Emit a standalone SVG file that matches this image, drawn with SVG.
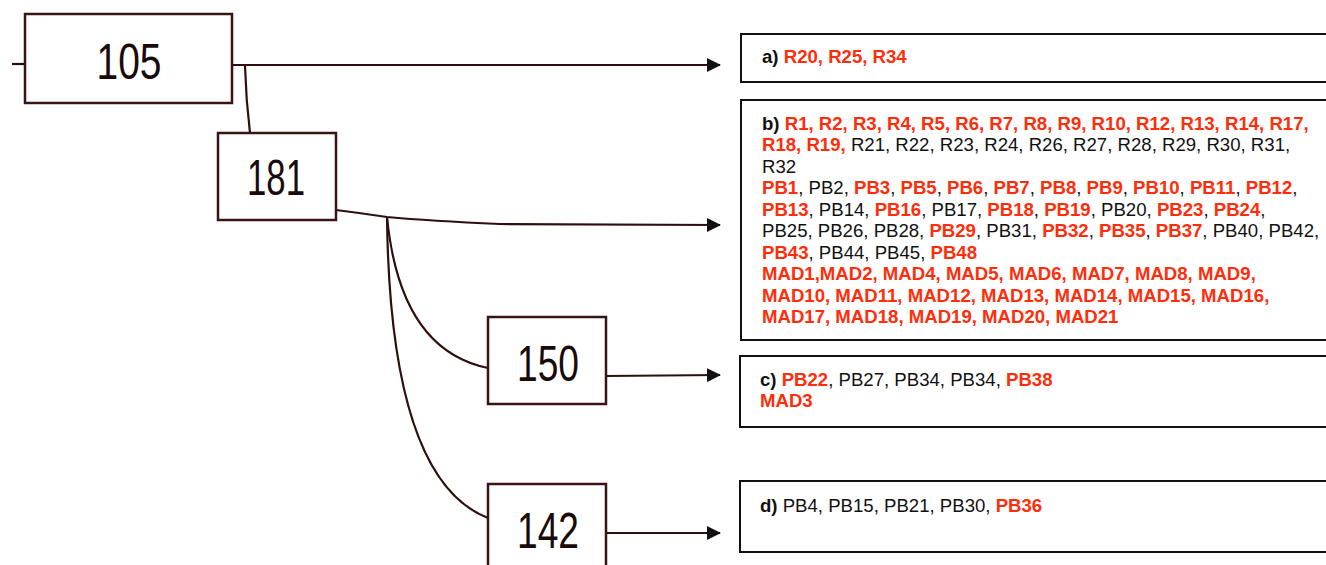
<svg xmlns="http://www.w3.org/2000/svg" width="1326" height="565" viewBox="0 0 1326 565">
<style>
.node rect{fill:#fff;stroke:#3a1414;stroke-width:2.5}
.num{font-family:"Liberation Sans",Arial,sans-serif;font-size:50px;fill:#1a0a0a;text-anchor:middle}
.conn path{fill:none;stroke:#2e0e0e;stroke-width:2.2}
.box rect{fill:#fff;stroke:#111;stroke-width:2}
.t{font-family:"Liberation Sans",Arial,sans-serif;font-size:18.6px;fill:#111}
.b{font-weight:bold}
.r{fill:#ff2d0a;font-weight:bold}
</style>
<defs>
<marker id="ah" markerWidth="14" markerHeight="14" refX="13" refY="7" orient="auto" markerUnits="userSpaceOnUse">
<path d="M0,0 L14,7 L0,14 Z" fill="#111"/>
</marker>
</defs>
<g class="conn">
<path d="M12,64 L25,64"/>
<path d="M232,65 L720,65" marker-end="url(#ah)"/>
<path d="M245,66 Q246,100 250,133"/>
<path d="M336,210 Q360,213 387,217 Q430,221 500,224 L720,225" marker-end="url(#ah)"/>
<path d="M387,217 Q400,350 488,368"/>
<path d="M387,217 Q390,480 488,518"/>
<path d="M606,376 L720,375" marker-end="url(#ah)"/>
<path d="M606,533 L720,533" marker-end="url(#ah)"/>
</g>
<g id="n105" class="node"><rect x="25" y="14" width="207" height="89"/><text class="num" x="129" y="79" textLength="65" lengthAdjust="spacingAndGlyphs">105</text></g>
<g id="n181" class="node"><rect x="218" y="133" width="118" height="87"/><text class="num" x="276" y="195" textLength="58" lengthAdjust="spacingAndGlyphs">181</text></g>
<g id="n150" class="node"><rect x="488" y="317" width="118" height="87"/><text class="num" x="548" y="381" textLength="62" lengthAdjust="spacingAndGlyphs">150</text></g>
<g id="n142" class="node"><rect x="488" y="484" width="118" height="90"/><text class="num" x="548" y="548" textLength="62" lengthAdjust="spacingAndGlyphs">142</text></g>
<g id="boxA" class="box"><rect x="741" y="34" width="600" height="48"/>
<text class="t" x="762" y="63"><tspan class="b">a) </tspan><tspan class="r">R20, R25, R34</tspan></text></g>
<g id="boxB" class="box"><rect x="741" y="100" width="600" height="240"/>
<text class="t" x="762" y="130"><tspan class="b">b) </tspan><tspan class="r">R1, R2, R3, R4, R5, R6, R7, R8, R9, R10, R12, R13, R14, R17,</tspan></text>
<text class="t" x="762" y="151"><tspan class="r">R18, R19,</tspan> R21, R22, R23, R24, R26, R27, R28, R29, R30, R31,</text>
<text class="t" x="762" y="173">R32</text>
<text class="t" x="762" y="194"><tspan class="r">PB1</tspan>, PB2, <tspan class="r">PB3</tspan>, <tspan class="r">PB5</tspan>, <tspan class="r">PB6</tspan>, <tspan class="r">PB7</tspan>, <tspan class="r">PB8</tspan>, <tspan class="r">PB9</tspan>, <tspan class="r">PB10</tspan>, <tspan class="r">PB11</tspan>, <tspan class="r">PB12</tspan>,</text>
<text class="t" x="762" y="216"><tspan class="r">PB13</tspan>, PB14, <tspan class="r">PB16</tspan>, PB17, <tspan class="r">PB18</tspan>, <tspan class="r">PB19</tspan>, PB20, <tspan class="r">PB23</tspan>, <tspan class="r">PB24</tspan>,</text>
<text class="t" x="762" y="237">PB25, PB26, PB28, <tspan class="r">PB29</tspan>, PB31, <tspan class="r">PB32</tspan>, <tspan class="r">PB35</tspan>, <tspan class="r">PB37</tspan>, PB40, PB42,</text>
<text class="t" x="762" y="259"><tspan class="r">PB43</tspan>, PB44, PB45, <tspan class="r">PB48</tspan></text>
<text class="t r" x="762" y="280">MAD1,MAD2, MAD4, MAD5, MAD6, MAD7, MAD8, MAD9,</text>
<text class="t r" x="762" y="302">MAD10, MAD11, MAD12, MAD13, MAD14, MAD15, MAD16,</text>
<text class="t r" x="762" y="323">MAD17, MAD18, MAD19, MAD20, MAD21</text></g>
<g id="boxC" class="box"><rect x="740" y="356" width="600" height="71"/>
<text class="t" x="760" y="386"><tspan class="b">c) </tspan><tspan class="r">PB22</tspan>, PB27, PB34, PB34, <tspan class="r">PB38</tspan></text>
<text class="t r" x="760" y="407">MAD3</text></g>
<g id="boxD" class="box"><rect x="740" y="481" width="600" height="71"/>
<text class="t" x="760" y="512"><tspan class="b">d) </tspan>PB4, PB15, PB21, PB30, <tspan class="r">PB36</tspan></text></g>
</svg>
